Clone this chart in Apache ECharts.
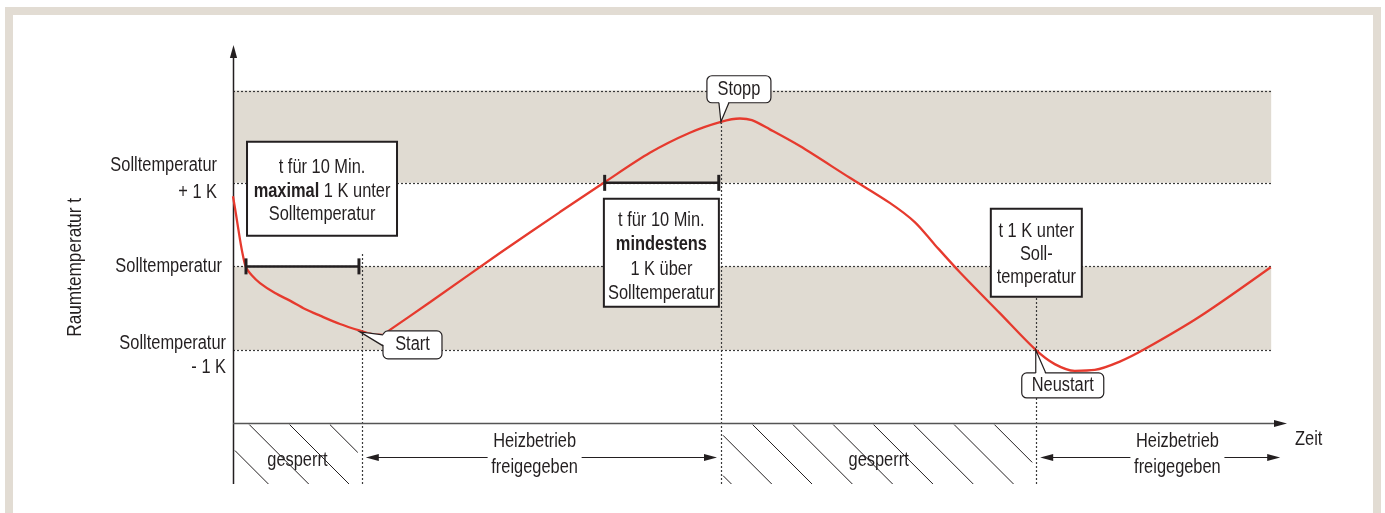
<!DOCTYPE html>
<html><head><meta charset="utf-8">
<script src="https://cdn.jsdelivr.net/npm/echarts@6/dist/echarts.min.js"></script>
<style>
html,body{margin:0;padding:0;background:#fff;overflow:hidden;}
#frame{position:absolute;left:5px;top:7px;width:1360px;height:530px;border:8px solid #e2dcd3;border-bottom:none;}
#chart{position:absolute;left:0;top:0;width:1385px;height:513px;}
</style></head><body><div id="frame"></div><div id="chart"></div>
<script>
// ---------- data (minutes / Kelvin relative to Solltemperatur) ----------
const timeMin = [0,0.27,0.62,0.88,1.15,1.68,2.39,3.72,5.04,6.37,7.70,9.47,11.24,12.30,13.27,13.89,17.43,23.63,28.94,32.92,36.90,40.44,43.19,44.87,45.93,47.52,50.18,54.60,58.14,60.35,62.12,64.34,67.88,71.06,72.74,74.51,76.28,78.50,80.71,85.58,91.86];
const tempK   = [0.84,0.62,0.32,0.13,-0.01,-0.11,-0.20,-0.32,-0.41,-0.51,-0.59,-0.69,-0.77,-0.81,-0.82,-0.76,-0.43,0.16,0.65,1.01,1.36,1.60,1.73,1.77,1.75,1.64,1.44,1.06,0.76,0.53,0.26,-0.07,-0.56,-1.00,-1.17,-1.25,-1.24,-1.14,-0.99,-0.60,-0.01];
const bandLevels = [-1, 0, 1, 2.105];
const yTickValues = [1, 0, -1];
const yTickLabels = ['Solltemperatur\n+ 1 K', 'Solltemperatur', 'Solltemperatur\n- 1 K'];
const gateTimes = [11.4, 43.2, 71.1];
const gateTopK = [0.17, 1.73, -0.37];
const lockedSpans = [[0, 11.4], [43.2, 71.1]];
const releasedSpans = [[11.4, 43.2], [71.1, 93.05]];
const releasedLabelX = [26.7, 83.6];
const tenMinBars = [[1.15, 11.15, 0], [32.9, 43.0, 1]];
const boxTexts = [
  ['t für 10 Min.', '{b|maximal} 1 K unter', 'Solltemperatur'],
  ['t für 10 Min.', '{b|mindestens}', '1 K über', 'Solltemperatur'],
  ['t 1 K unter', 'Soll-', 'temperatur']
];
const boxAnchors = [[7.88, 0.928], [37.92, 0.162], [71.11, 0.162]];
const calloutNames = ['Start', 'Stopp', 'Neustart'];
const calloutTips = [[11.24, -0.784], [43.19, 1.731], [71.06, -1.0]];
const xMax = 93.3, yMin = -2.605, yMax = 2.65, timeAxisY = -1.87, bandEndX = 91.9;

// ---------- styling ----------
function fontAvailable(name){
  const c = document.createElement('canvas').getContext('2d');
  const s = 'Solltemperatur Heizbetrieb 0123';
  c.font = '40px monospace'; const w1 = c.measureText(s).width;
  c.font = "40px '" + name + "', monospace"; const w2 = c.measureText(s).width;
  return Math.abs(w1 - w2) > 0.5;
}
const NARROW = fontAvailable('Liberation Sans Narrow');
const FF = NARROW ? "'Liberation Sans Narrow'" : "'Liberation Sans', Arial, sans-serif";
const FS = 20;
const SX = NARROW ? 1 : 0.82;
const INK = '#231f20', BAND = '#e0dbd2', DOT = '#3a3a3a', RED = '#e63a2e';

function txt(x, y, text, o){
  o = o || {};
  const fs = o.fs || FS;
  return {type:'text', x:x, y:y, scaleX:SX, rotation:o.rot||0,
    style:{text:text, x:0, y:0, fill:INK, fontSize:fs, fontFamily:FF, fontWeight:o.w||'normal',
      align:o.align||'center', verticalAlign:'middle', lineHeight:o.lh||24,
      rich:{b:{fontSize:fs, fontFamily:FF, fontWeight:'bold', fill:INK}}}};
}
function ln(x1,y1,x2,y2,st){ return {type:'line', shape:{x1:x1,y1:y1,x2:x2,y2:y2}, style:Object.assign({stroke:INK,lineWidth:1},st)}; }
function poly(pts,st){ return {type:'polygon', shape:{points:pts}, style:Object.assign({fill:INK},st)}; }

const yLabelLayout = [{dx:-16, dy:-3.5, lh:27}, {dx:-11, dy:0, lh:24}, {dx:-7, dy:6, lh:24}];
const boxLayout = [{w:150,h:94,lh:23.5,dy:2.5},{w:115,h:108,lh:24.5,dy:4},{w:91,h:88,lh:23,dy:2}];
const calloutLayout = [
  {bx:23, by:-1, w:59, h:28, base:[[23,3],[23,14]], inw:[2,0]},
  {bx:-14, by:-46, w:64, h:27, base:[[-2,-19],[8,-19]], inw:[0,-2]},
  {bx:-14, by:23, w:82, h:25, base:[[0,23],[10,23]], inw:[0,2]}
];

function renderBg(params, api){
  const C = (x,y)=>api.coord([x,y]);
  const ch = [];
  // shaded bands
  [[bandLevels[0], bandLevels[1]], [bandLevels[2], bandLevels[3]]].forEach(function(b){
    const p1 = C(0, b[1]), p2 = C(bandEndX, b[0]);
    ch.push({type:'rect', shape:{x:p1[0], y:p1[1], width:p2[0]-p1[0], height:p2[1]-p1[1]}, style:{fill:BAND}});
  });
  // dotted level lines
  bandLevels.forEach(function(v){
    const p1 = C(0, v), p2 = C(bandEndX, v);
    const y = Math.round(p1[1]) + 0.5;
    ch.push(ln(p1[0], y, p2[0], y, {stroke:DOT, lineWidth:1.2, lineDash:[2,2]}));
  });
  // vertical dotted gate lines
  gateTimes.forEach(function(t, i){
    const p1 = C(t, yMin), p2 = C(t, gateTopK[i]);
    const x = Math.round(p1[0]) + 0.5;
    ch.push(ln(x, p1[1], x, p2[1], {stroke:DOT, lineWidth:1.2, lineDash:[2,2]}));
  });
  // hatching of locked spans
  const phases = [-26, -51];
  lockedSpans.forEach(function(s, i){
    const a = C(s[0], timeAxisY), b = C(s[1], yMin);
    const xL = a[0] + 2, xR = b[0] - 4, yT = a[1] + 2, yB = b[1];
    const c0 = a[0] - a[1] + phases[i];
    for (let k = -6; k < 30; k++){
      const c = c0 + k * 40.3;
      const y1 = Math.max(yT, xL - c), y2 = Math.min(yB, xR - c);
      if (y2 - y1 > 1) ch.push(ln(c + y1, y1, c + y2, y2, {stroke:INK, lineWidth:1}));
    }
    const m = C((s[0] + s[1]) / 2, -2.32);
    ch.push(txt(m[0], m[1], 'gesperrt'));
  });
  // y axis with arrow
  const ya = C(0, yMin), yb = C(0, yMax);
  const yx = Math.round(ya[0]) + 0.5;
  ch.push(ln(yx, ya[1], yx, yb[1] + 8, {stroke:INK, lineWidth:1.5}));
  ch.push(poly([[yx, yb[1]], [yx - 3.6, yb[1] + 13], [yx + 3.6, yb[1] + 13]]));
  // time axis with arrow
  const ta = C(0, timeAxisY), tb = C(xMax, timeAxisY);
  const ty = Math.round(ta[1]) + 0.5;
  ch.push(ln(ta[0], ty, tb[0] - 8, ty, {stroke:'#555', lineWidth:1.5}));
  ch.push(poly([[tb[0], ty], [tb[0] - 13, ty - 3.6], [tb[0] - 13, ty + 3.6]]));
  const zt = C(xMax, -2.078);
  ch.push(txt(zt[0] + 8, zt[1], 'Zeit', {align:'left'}));
  // released spans: double arrows with label
  releasedSpans.forEach(function(s, i){
    const l = C(s[0], -2.281), r = C(s[1], -2.281), m = C(releasedLabelX[i], -2.257);
    const y = Math.round(l[1]) + 0.5;
    const lt = l[0] + 4, rt = r[0] - 4;
    ch.push(ln(lt + 10, y, m[0] - 47, y, {lineWidth:1.2}));
    ch.push(ln(m[0] + 47, y, rt - 10, y, {lineWidth:1.2}));
    ch.push(poly([[lt, y], [lt + 13, y - 3.4], [lt + 13, y + 3.4]]));
    ch.push(poly([[rt, y], [rt - 13, y - 3.4], [rt - 13, y + 3.4]]));
    ch.push(txt(m[0], m[1], 'Heizbetrieb\nfreigegeben', {lh:26}));
  });
  // y tick labels
  yTickValues.forEach(function(v, i){
    const p = C(0, v), L = yLabelLayout[i];
    ch.push(txt(p[0] + L.dx, p[1] + L.dy, yTickLabels[i], {align:'right', lh:L.lh}));
  });
  // y axis title
  const tp = C(-13.98, -0.012);
  ch.push(txt(tp[0], tp[1], 'Raumtemperatur t', {rot:Math.PI/2, fs:21}));
  return {type:'group', children:ch};
}

function renderFg(params, api){
  const C = (x,y)=>api.coord([x,y]);
  const ch = [];
  // 10-minute bars
  tenMinBars.forEach(function(b){
    const p1 = C(b[0], b[2]), p2 = C(b[1], b[2]);
    ch.push(ln(p1[0], p1[1], p2[0], p2[1], {lineWidth:2.5}));
    [p1, p2].forEach(function(p){
      ch.push({type:'rect', shape:{x:p[0]-1.5, y:p[1]-8, width:3, height:16}, style:{fill:INK}});
    });
  });
  // text boxes
  boxTexts.forEach(function(lines, i){
    const c = C(boxAnchors[i][0], boxAnchors[i][1]), L = boxLayout[i];
    ch.push({type:'rect', shape:{x:c[0]-L.w/2, y:c[1]-L.h/2, width:L.w, height:L.h}, style:{fill:'#fff', stroke:INK, lineWidth:2}});
    lines.forEach(function(t, k){
      ch.push(txt(c[0], c[1] + L.dy + (k - (lines.length - 1) / 2) * L.lh, t));
    });
  });
  // callouts
  calloutNames.forEach(function(name, i){
    const tip = C(calloutTips[i][0], calloutTips[i][1]), L = calloutLayout[i];
    const bx = tip[0] + L.bx, by = tip[1] + L.by;
    ch.push({type:'rect', shape:{x:bx, y:by, width:L.w, height:L.h, r:5}, style:{fill:'#fff', stroke:INK, lineWidth:1.2}});
    const b1 = [tip[0] + L.base[0][0], tip[1] + L.base[0][1]], b2 = [tip[0] + L.base[1][0], tip[1] + L.base[1][1]];
    const b1i = [b1[0] + L.inw[0], b1[1] + L.inw[1]], b2i = [b2[0] + L.inw[0], b2[1] + L.inw[1]];
    ch.push(poly([b1i, tip, b2i], {fill:'#fff'}));
    ch.push({type:'polyline', shape:{points:[b1, tip, b2]}, style:{stroke:INK, lineWidth:1.2, fill:null}});
    ch.push(txt(bx + L.w / 2, by + L.h / 2, name));
  });
  return {type:'group', children:ch};
}

const chart = echarts.init(document.getElementById('chart'), null, {renderer:'canvas'});
chart.setOption({
  animation:false,
  backgroundColor:'transparent',
  grid:{left:233, right:98, top:45, bottom:29, containLabel:false},
  xAxis:{type:'value', min:0, max:xMax, show:false},
  yAxis:{type:'value', min:yMin, max:yMax, show:false},
  series:[
    {type:'custom', coordinateSystem:'cartesian2d', data:[[0,0]], renderItem:renderBg, silent:true, clip:false, z:1},
    {type:'line', data:timeMin.map(function(t,i){return [t, tempK[i]];}), showSymbol:false, smooth:0.3,
      lineStyle:{color:RED, width:2.3}, silent:true, clip:false, z:2},
    {type:'custom', coordinateSystem:'cartesian2d', data:[[0,0]], renderItem:renderFg, silent:true, clip:false, z:3}
  ]
});
</script></body></html>
